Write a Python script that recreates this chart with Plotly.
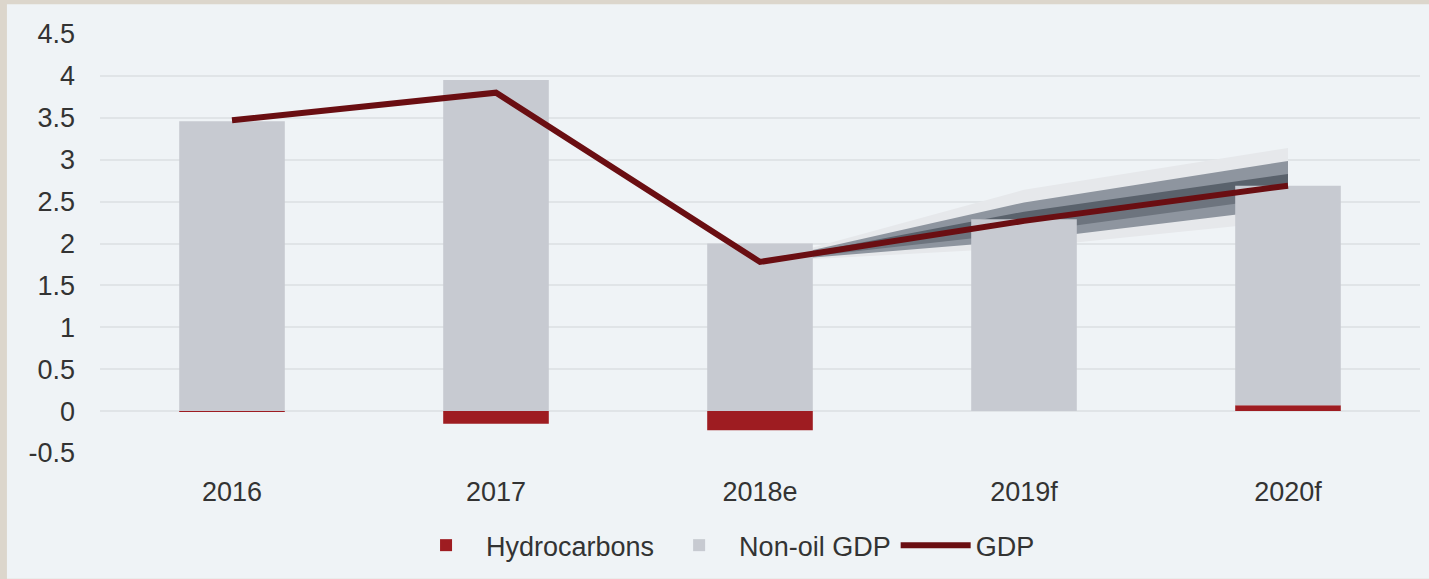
import plotly.graph_objects as go

# ---- data ----
categories = ["2016", "2017", "2018e", "2019f", "2020f"]
hydrocarbons = [-0.01, -0.15, -0.23, 0.0, 0.07]
non_oil_gdp = [3.46, 3.95, 2.00, 2.29, 2.62]
gdp = [3.47, 3.80, 1.78, 2.27, 2.69]

fan_categories = ["2018e", "2019f", "2020f"]
fan_light_hi = [1.78, 2.64, 3.14]
fan_mid_hi = [1.78, 2.49, 2.985]
fan_dark_hi = [1.78, 2.38, 2.83]
fan_centre = [1.78, 2.27, 2.69]
fan_dark_lo = [1.78, 2.13, 2.56]
fan_mid_lo = [1.78, 2.04, 2.42]
fan_light_lo = [1.78, 1.95, 2.27]

y_ticks = [-0.5, 0, 0.5, 1, 1.5, 2, 2.5, 3, 3.5, 4, 4.5]
y_tick_labels = ["-0.5", "0", "0.5", "1", "1.5", "2", "2.5", "3", "3.5", "4", "4.5"]

# ---- styles ----
BG = "#eff3f6"
BORDER = "#dcd6cc"
GRID = "#e0e4e7"
TEXT = "#333333"
FONT = "Liberation Sans, Arial, sans-serif"


def band(hi, lo, color):
    return go.Scatter(
        x=fan_categories + fan_categories[::-1],
        y=hi + lo[::-1],
        fill="toself",
        fillcolor=color,
        line=dict(width=0, color=color),
        mode="lines",
        hoverinfo="skip",
        showlegend=False,
        xaxis="x",
        yaxis="y",
    )


fig = go.Figure()

# fan (base subplot, drawn below the bars)
fig.add_trace(band(fan_light_hi, fan_light_lo, "#e6e8eb"))
fig.add_trace(band(fan_mid_hi, fan_mid_lo, "#8e959f"))
fig.add_trace(band(fan_dark_hi, fan_centre, "#5a626c"))
fig.add_trace(band(fan_centre, fan_dark_lo, "#6d747e"))

# bars and line (overlay subplot, drawn above the fan)
fig.add_trace(go.Bar(
    x=categories, y=hydrocarbons, name="Hydrocarbons",
    marker=dict(color="#9e1c21", line=dict(width=0)),
    xaxis="x2", yaxis="y2",
))
fig.add_trace(go.Bar(
    x=categories, y=non_oil_gdp, name="Non-oil GDP",
    marker=dict(color="#c7cad1", line=dict(width=0)),
    xaxis="x2", yaxis="y2",
))
fig.add_trace(go.Scatter(
    x=categories, y=gdp, name="GDP", mode="lines",
    line=dict(color="#6a0e12", width=6),
    xaxis="x2", yaxis="y2",
))

fig.update_layout(
    width=1429,
    height=579,
    margin=dict(l=100, r=9, t=34, b=124),
    paper_bgcolor=BORDER,
    plot_bgcolor="rgba(0,0,0,0)",
    barmode="relative",
    bargap=0.6,
    font=dict(family=FONT, size=27, color=TEXT),
    showlegend=True,
    legend=dict(
        orientation="h",
        x=0.472, xanchor="center",
        y=-0.221, yanchor="middle",
        font=dict(size=27, color=TEXT),
        bgcolor="rgba(0,0,0,0)",
        traceorder="normal",
        itemwidth=70,
    ),
    xaxis=dict(
        type="category",
        categoryorder="array",
        categoryarray=categories,
        range=[-0.5, 4.5],
        showgrid=False,
        zeroline=False,
        showline=False,
        ticks="",
        ticklabelstandoff=20,
        tickfont=dict(size=27, color=TEXT),
    ),
    yaxis=dict(
        range=[-0.5, 4.5],
        tickvals=y_ticks,
        ticktext=y_tick_labels,
        showgrid=True,
        gridcolor=GRID,
        gridwidth=2,
        zeroline=False,
        showline=False,
        ticks="",
        ticklabelstandoff=24,
        tickfont=dict(size=27, color=TEXT),
    ),
    xaxis2=dict(
        type="category",
        categoryorder="array",
        categoryarray=categories,
        overlaying="x",
        matches="x",
        visible=False,
    ),
    yaxis2=dict(
        overlaying="y",
        matches="y",
        visible=False,
    ),
    shapes=[
        dict(
            type="rect", xref="paper", yref="paper",
            x0=-0.0705, x1=1.01, y0=-0.30, y1=1.0713,
            fillcolor=BG, line=dict(width=0), layer="below",
        )
    ],
)

fig.write_html(
    "out.html",
    config={"displayModeBar": False},
    post_script="document.body.style.margin='0';document.body.style.overflow='hidden';",
)
